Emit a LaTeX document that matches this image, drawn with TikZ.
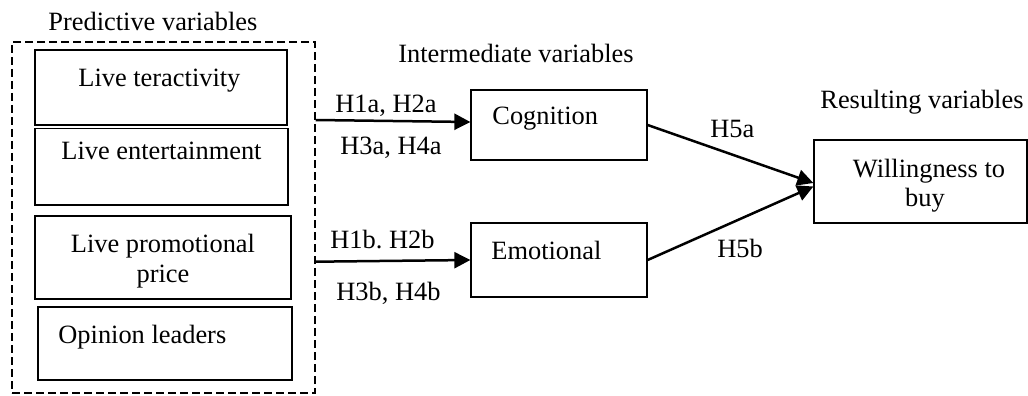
\documentclass[tikz,border=0pt]{standalone}
\usepackage{fontspec}
\setmainfont{Liberation Serif}
\usetikzlibrary{arrows.meta,fit}
\frenchspacing
\begin{document}
\begin{tikzpicture}[x=0.5pt,y=-0.5pt,
  font=\fontsize{13.2}{15}\selectfont,
  box/.style={draw,line width=0.65pt,inner sep=0pt},
  txt/.style={inner sep=0pt,anchor=base west},
  ctxt/.style={inner sep=0pt,anchor=base,align=center},
  dbox/.style={draw,line width=0.75pt,dash pattern=on 4pt off 2pt,inner sep=0pt},
  arr/.style={line width=1.25pt,-{Triangle[length=8pt,width=8pt]}}]
\useasboundingbox (0,0) rectangle (1028,396);
% predictive variables
\node[dbox,fit={(12,42) (315,393)}] (pv) {};
\node[box,fit={(35,50) (287,125)}] (b1) {};
\node[box,fit={(35,128.5) (288,205)}] (b2) {};
\node[box,fit={(35,216) (291,299)}] (b3) {};
\node[box,fit={(38,307) (292,380)}] (b4) {};
\node[txt] (tpv) at (48,30) {Predictive variables};
\node[txt] (t1) at (78,86) {Live teractivity};
\node[txt] (t2) at (61,159) {Live entertainment};
\node[ctxt] (t3) at (163,252) {Live promotional};
\node[ctxt] (t3b) at (163,282) {price};
\node[txt] (t4) at (58,343) {Opinion leaders};
% intermediate
\node[txt] (tiv) at (398,62) {Intermediate variables};
\node[box,fit={(471,90) (647,160)}] (cog) {};
\node[box,fit={(471,223) (647,297)}] (emo) {};
\node[txt] (tcog) at (492,124) {Cognition};
\node[txt] (temo) at (491,259) {Emotional};
% resulting
\node[txt] (trv) at (820,108) {Resulting variables};
\node[box,fit={(814,140) (1027,223)}] (will) {};
\node[ctxt] (tw1) at (929,177) {Willingness to};
\node[ctxt] (tw2) at (925,206) {buy};
% connectors
\coordinate (s1) at (pv.east |- 0,120);
\coordinate (s2) at (pv.east |- 0,261.7);
\draw[arr] (s1) -- ([yshift=1.5pt]cog.west);
\draw[arr] (s2) -- (emo.west);
\draw[arr] (cog.east) -- ([yshift=-0.75pt]will.west);
\draw[arr] (emo.east) -- ([yshift=-2.5pt]will.west);
% labels
\node[txt] (h1) at (335,112) {H1a, H2a};
\node[txt] (h2) at (340,154) {H3a, H4a};
\node[txt] (h3) at (330,248) {H1b.\ H2b};
\node[txt] (h4) at (336,300) {H3b, H4b};
\node[txt] (h5) at (710,137) {H5a};
\node[txt] (h6) at (717,257) {H5b};
\end{tikzpicture}
\end{document}
